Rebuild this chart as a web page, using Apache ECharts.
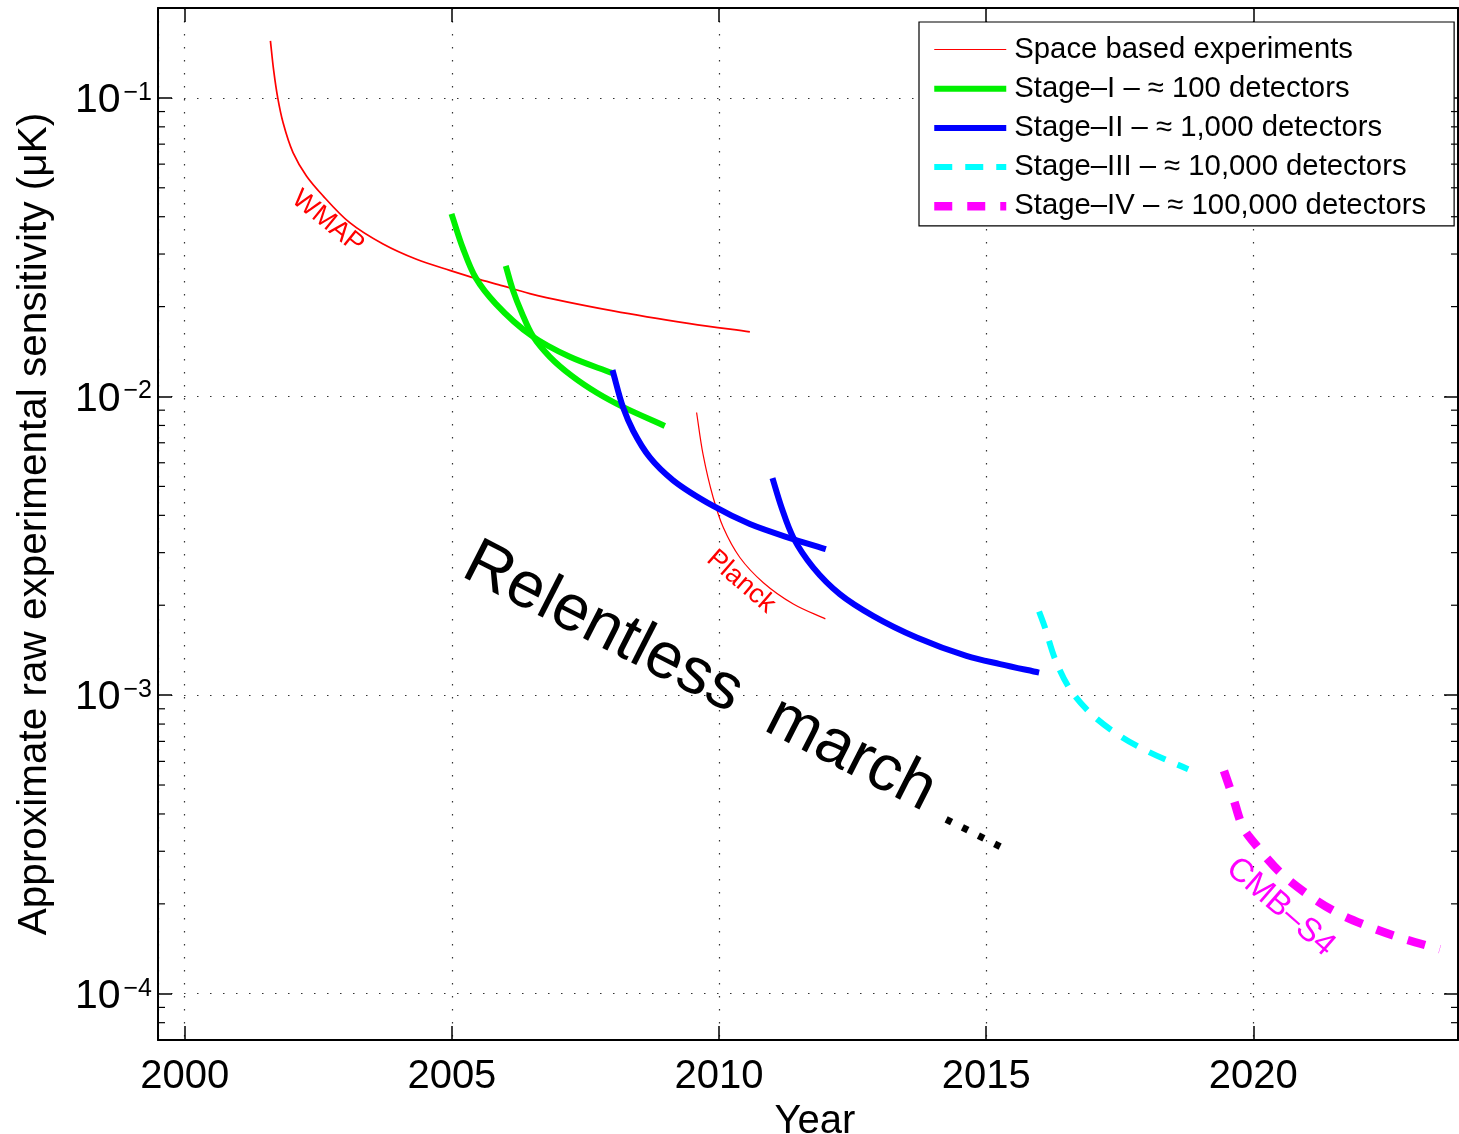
<!DOCTYPE html>
<html>
<head>
<meta charset="utf-8">
<script src="https://cdn.jsdelivr.net/npm/echarts@6/dist/echarts.min.js"></script>
<style>
  html, body { margin: 0; padding: 0; background: #fff; }
  #chart { width: 1459px; height: 1134px; }
</style>
</head>
<body>
<div id="chart"></div>
<script>
// Sensitivity (μK) against year for each experiment generation
const wmapYears   = [2001.604, 2001.666, 2001.741, 2001.840, 2002.027, 2002.278, 2002.589, 2003.089, 2003.712, 2004.337, 2004.961, 2005.447, 2005.953, 2006.458, 2008.018, 2009.454, 2010.577];
const wmapSens    = [0.1552, 0.1231, 0.1000, 0.0827, 0.0656, 0.0548, 0.0470, 0.0382, 0.0324, 0.0288, 0.02645, 0.02486, 0.02347, 0.02212, 0.01935, 0.01755, 0.01646];

const planckYears = [2009.58, 2009.70, 2009.89, 2010.08, 2010.39, 2010.83, 2011.39, 2011.99];
const planckSens  = [0.00884, 0.00641, 0.00459, 0.00364, 0.00289, 0.00238, 0.00202, 0.00180];

const stage1aYears = [2004.993, 2005.204, 2005.447, 2005.822, 2006.496, 2007.207, 2007.993];
const stage1aSens  = [0.04088, 0.03147, 0.02496, 0.02043, 0.01596, 0.01358, 0.01200];

const stage1bYears = [2006.009, 2006.140, 2006.309, 2006.514, 2006.833, 2007.245, 2007.713, 2008.199, 2008.985];
const stage1bSens  = [0.02738, 0.02276, 0.01906, 0.01596, 0.01358, 0.01172, 0.01029, 0.00923, 0.00797];

const stage2aYears = [2008.006, 2008.205, 2008.392, 2008.705, 2009.141, 2009.890, 2010.577, 2011.387, 2011.999];
const stage2aSens  = [0.01226, 0.00918, 0.00768, 0.00625, 0.00524, 0.00430, 0.00374, 0.00333, 0.00308];

const stage2bYears = [2011.00, 2011.17, 2011.39, 2011.76, 2012.26, 2012.89, 2013.70, 2014.63, 2015.26, 2015.99];
const stage2bSens  = [0.00533, 0.00425, 0.00337, 0.00268, 0.00218, 0.00184, 0.00156, 0.001354, 0.00127, 0.00119];

const stage3Years = [2015.99, 2016.10, 2016.29, 2016.57, 2016.97, 2017.50, 2018.06, 2018.78];
const stage3Sens  = [0.001905, 0.001684, 0.00132, 0.001047, 0.000864, 0.000731, 0.000643, 0.000565];

const stage4Years = [2019.45, 2019.62, 2019.81, 2020.06, 2020.50, 2021.00, 2021.56, 2022.12, 2022.75, 2023.49];
const stage4Sens  = [0.000558, 0.000454, 0.000360, 0.000313, 0.000255, 0.000216, 0.000187, 0.000169, 0.000154, 0.000141];

// Legend entries
const seriesNames = [
  'Space based experiments',
  'Stage\u2013I \u2013 \u2248 100 detectors',
  'Stage\u2013II \u2013 \u2248 1,000 detectors',
  'Stage\u2013III \u2013 \u2248 10,000 detectors',
  'Stage\u2013IV \u2013 \u2248 100,000 detectors'
];

// Text annotations anchored in data space
const noteText = ['WMAP', 'Planck', 'CMB\u2013S4', 'Relentless  march ....'];
const noteYear = [2002.68, 2010.41, 2020.51, 2005.30];
const noteSens = [0.03845, 0.0024, 0.000195, 0.00285];

// Axis ranges and log-axis minor tick values
const yearMin = 1999.5, yearMax = 2023.83;
const sensMin = 7e-5, sensMax = 0.2;
const minorTickValues = [8e-5, 9e-5,
  2e-4, 3e-4, 4e-4, 5e-4, 6e-4, 7e-4, 8e-4, 9e-4,
  2e-3, 3e-3, 4e-3, 5e-3, 6e-3, 7e-3, 8e-3, 9e-3,
  2e-2, 3e-2, 4e-2, 5e-2, 6e-2, 7e-2, 8e-2, 9e-2];

const zip = (xs, ys) => xs.map((x, i) => [x, ys[i]]);
const FONT = '"Liberation Sans", Arial, Helvetica, sans-serif';

const lineColors = ['#ff0000', '#00f000', '#0000ff', '#00ffff', '#ff00ff'];
const legendWidths = [1.2, 6, 6, 6, 8.5];
const legendDash = ['solid', 'solid', 'solid', [18, 13], [18, 15]];

// Centripetal Catmull-Rom spline through pixel points, as an SVG path string
function splinePath(pts) {
  const dist = (a, b) => Math.hypot(a[0] - b[0], a[1] - b[1]);
  const n = pts.length;
  let d = 'M' + pts[0][0] + ' ' + pts[0][1];
  for (let i = 0; i < n - 1; i++) {
    const p1 = pts[i], p2 = pts[i + 1];
    const p0 = i > 0 ? pts[i - 1] : [2 * p1[0] - p2[0], 2 * p1[1] - p2[1]];
    const p3 = i < n - 2 ? pts[i + 2] : [2 * p2[0] - p1[0], 2 * p2[1] - p1[1]];
    const d1 = Math.sqrt(dist(p0, p1)), d2 = Math.sqrt(dist(p1, p2)), d3 = Math.sqrt(dist(p2, p3));
    const b1 = [0, 1].map(k => (d1 * d1 * p2[k] - d2 * d2 * p0[k] + (2 * d1 * d1 + 3 * d1 * d2 + d2 * d2) * p1[k]) / (3 * d1 * (d1 + d2)));
    const b2 = [0, 1].map(k => (d3 * d3 * p1[k] - d2 * d2 * p3[k] + (2 * d3 * d3 + 3 * d3 * d2 + d2 * d2) * p2[k]) / (3 * d3 * (d3 + d2)));
    d += ' C' + b1[0] + ' ' + b1[1] + ' ' + b2[0] + ' ' + b2[1] + ' ' + p2[0] + ' ' + p2[1];
  }
  return d;
}

// One smooth curve, mapped to pixels through the chart's own axes
function curve(xs, ys, color, width, dash) {
  const pts = zip(xs, ys);
  return {
    type: 'custom', silent: true, z: 3,
    xAxisIndex: 0, yAxisIndex: 0,
    data: pts, encode: { x: 0, y: 1 },
    renderItem: (params, api) => {
      if (params.dataIndex !== 0) return null;
      const px = pts.map(p => api.coord(p));
      return {
        type: 'path',
        shape: { pathData: splinePath(px) },
        style: { fill: 'none', stroke: color, lineWidth: width, lineDash: dash || null, lineCap: 'butt', lineJoin: 'round' }
      };
    }
  };
}

// Empty line series that give the legend its line samples
const legendCarriers = seriesNames.map((n, i) => ({
  type: 'line', name: n, data: [], symbol: 'none', silent: true,
  lineStyle: { color: lineColors[i], width: legendWidths[i], type: legendDash[i] },
  itemStyle: { color: lineColors[i] }
}));

const notesStyle = [
  { color: '#ff0000', fontSize: 27, rotate: -39, align: 'center' },
  { color: '#ff0000', fontSize: 27, rotate: -41, align: 'center' },
  { color: '#ff00ff', fontSize: 33, rotate: -41, align: 'center' },
  { color: '#000000', fontSize: 65, rotate: -27, align: 'left' }
];

const chart = echarts.init(document.getElementById('chart'), null, { renderer: 'canvas' });

const gridLine = { show: true, lineStyle: { color: '#333', width: 1.2, type: [1.5, 11.5] } };
const frameLine = { show: true, onZero: false, lineStyle: { color: '#000', width: 2 } };
const majorTick = { show: true, inside: true, length: 14, lineStyle: { color: '#000', width: 1.5 } };

chart.setOption({
  animation: false,
  backgroundColor: '#fff',
  textStyle: { fontFamily: FONT, color: '#000' },
  grid: { left: 158, right: 1, top: 8, bottom: 94, outerBoundsMode: 'none', containLabel: false },
  legend: {
    data: seriesNames.map((n, i) => ({
      name: n,
      lineStyle: { width: legendWidths[i], color: lineColors[i] },
      itemStyle: { color: 'rgba(0,0,0,0)', borderWidth: 0, opacity: 0 }
    })),
    orient: 'vertical', left: 919, top: 22,
    padding: [13, 28, 5, 11],
    itemWidth: 72, itemHeight: 14, itemGap: 10.2,
    backgroundColor: '#fff', borderColor: '#000', borderWidth: 1.2, borderRadius: 0,
    itemStyle: { color: 'rgba(0,0,0,0)', borderWidth: 0, opacity: 0 },
    textStyle: { fontSize: 29.3, color: '#000', fontFamily: FONT, padding: [0, 0, 0, 3] },
    selectedMode: false
  },
  xAxis: [
    {
      type: 'value', min: yearMin, max: yearMax, position: 'bottom',
      axisLine: frameLine, axisTick: majorTick, splitLine: gridLine,
      axisLabel: {
        fontSize: 40, color: '#000', margin: 17, fontFamily: FONT,
        formatter: v => (Math.abs(v % 5) < 1e-6 ? String(Math.round(v)) : '')
      },
      name: 'Year', nameLocation: 'middle', nameGap: 56,
      nameTextStyle: { fontSize: 40, color: '#000', fontFamily: FONT, padding: [0, 0, 0, 14] }
    },
    {
      type: 'value', min: yearMin, max: yearMax, position: 'top',
      axisLine: frameLine, axisTick: majorTick,
      axisLabel: { show: false }, splitLine: { show: false }
    }
  ],
  yAxis: [
    {
      type: 'log', logBase: 10, min: sensMin, max: sensMax, position: 'left',
      axisLine: frameLine, axisTick: majorTick, splitLine: gridLine,
      axisLabel: {
        margin: 6, color: '#000', fontFamily: FONT, padding: [6, 0, 0, 0],
        formatter: v => {
          const e = Math.log10(v);
          if (Math.abs(e - Math.round(e)) > 1e-6) return '';
          return '{b|10}{s|\u2212' + Math.abs(Math.round(e)) + '}';
        },
        rich: {
          b: { fontSize: 41, lineHeight: 41, verticalAlign: 'bottom', fontFamily: FONT, color: '#000' },
          s: { fontSize: 25, lineHeight: 25, verticalAlign: 'top', fontFamily: FONT, color: '#000', padding: [0, 0, 0, 3] }
        }
      },
      name: 'Approximate raw experimental sensitivity (\u03bcK)',
      nameLocation: 'middle', nameGap: 103, nameRotate: 90,
      nameTextStyle: { fontSize: 40.5, color: '#000', fontFamily: FONT }
    },
    {
      type: 'log', logBase: 10, min: sensMin, max: sensMax, position: 'right',
      axisLine: frameLine, axisTick: majorTick,
      axisLabel: { show: false }, splitLine: { show: false }
    }
  ],
  series: [
    ...legendCarriers,
    curve(wmapYears, wmapSens, lineColors[0], 1.7),
    curve(planckYears, planckSens, lineColors[0], 1.2),
    curve(stage1aYears, stage1aSens, lineColors[1], 6),
    curve(stage1bYears, stage1bSens, lineColors[1], 6),
    curve(stage2aYears, stage2aSens, lineColors[2], 6),
    curve(stage2bYears, stage2bSens, lineColors[2], 6),
    curve(stage3Years, stage3Sens, lineColors[3], 6, [18, 13]),
    curve(stage4Years, stage4Sens, lineColors[4], 8.5, [18, 15]),
    {
      // minor ticks of the log axis, on both the left and right frame edges
      type: 'custom', name: 'minor', silent: true, z: 4,
      xAxisIndex: 0, yAxisIndex: 0,
      data: minorTickValues.map(v => [yearMin, v]),
      encode: { x: 0, y: 1 },
      renderItem: (params, api) => {
        const l = api.coord([yearMin, api.value(1)]);
        const r = api.coord([yearMax, api.value(1)]);
        const st = { stroke: '#000', lineWidth: 1.2 };
        return {
          type: 'group', children: [
            { type: 'line', shape: { x1: l[0], y1: l[1], x2: l[0] + 7, y2: l[1] }, style: st },
            { type: 'line', shape: { x1: r[0] - 7, y1: r[1], x2: r[0], y2: r[1] }, style: st }
          ]
        };
      }
    },
    {
      // curve names and the caption
      type: 'scatter', name: 'notes', silent: true, z: 5,
      symbolSize: 0,
      itemStyle: { opacity: 1 },
      data: noteText.map((t, i) => ({
        value: [noteYear[i], noteSens[i]],
        label: {
          show: true, formatter: t, position: 'inside', opacity: 1,
          align: notesStyle[i].align, verticalAlign: 'middle',
          rotate: notesStyle[i].rotate, color: notesStyle[i].color,
          textBorderWidth: 0,
          fontSize: notesStyle[i].fontSize, fontFamily: FONT
        }
      }))
    }
  ]
});
</script>
</body>
</html>
